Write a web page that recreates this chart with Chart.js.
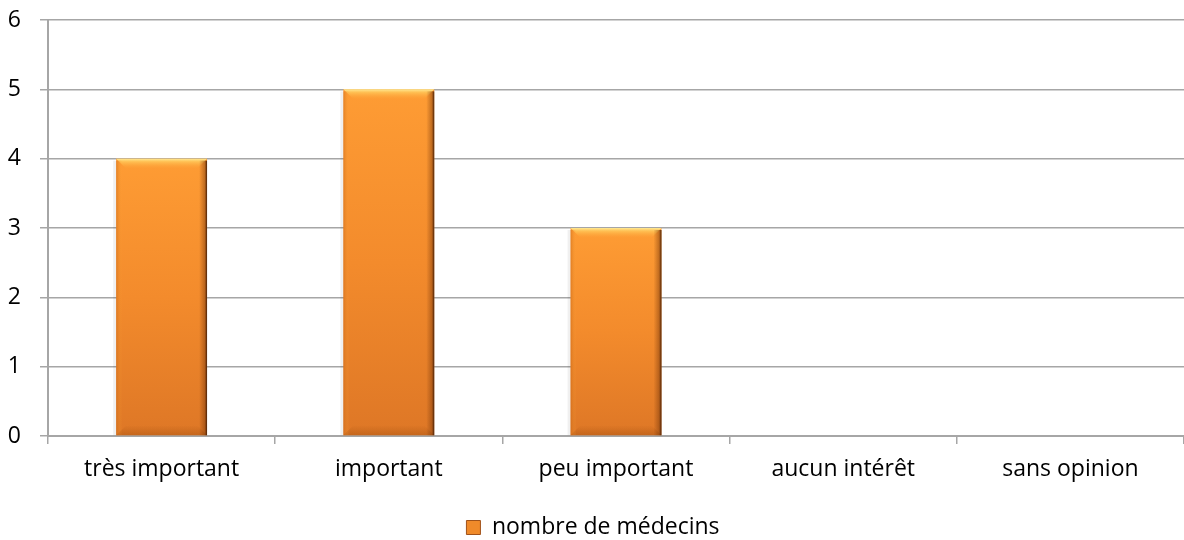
<!DOCTYPE html>
<html>
<head>
<meta charset="utf-8">
<script src="https://cdn.jsdelivr.net/npm/chart.js@4/dist/chart.umd.min.js"></script>
<style>
  html, body { margin: 0; padding: 0; background: #ffffff; }
  #wrap { width: 1184px; height: 540px; }
</style>
</head>
<body>
<div id="wrap"><canvas id="chart" width="1184" height="540"></canvas></div>
<script>
// Réponses au questionnaire
const categories = ['très important', 'important', 'peu important', 'aucun intérêt', 'sans opinion'];
const seriesName = 'nombre de médecins';
const counts = [4, 5, 3, 0, 0];
const yTicks = [0, 1, 2, 3, 4, 5, 6];

const FONT = "'Open Sans', 'Liberation Sans', sans-serif";
const FONT_SIZE = 23;
const GRID = '#a6a6a6';

// Vertical orange gradient for each bar, from its top down to the baseline
function barGradient(ctx) {
  const chart = ctx.chart;
  const y = chart.scales && chart.scales.y;
  if (!y || ctx.type !== 'data' || !chart.chartArea) return '#f38b2c';
  const top = y.getPixelForValue(ctx.parsed.y);
  const base = y.getPixelForValue(0);
  if (!isFinite(top) || !isFinite(base) || top === base) return '#f38b2c';
  const g = chart.ctx.createLinearGradient(0, top, 0, base);
  g.addColorStop(0, '#fe9c34');
  g.addColorStop(0.5, '#f38b2c');
  g.addColorStop(1, '#de7726');
  return g;
}

// Bevelled edges on the bars
const bevel = {
  id: 'bevel',
  afterDatasetsDraw(chart) {
    const c = chart.ctx;
    chart.getDatasetMeta(0).data.forEach((bar) => {
      const h = bar.base - bar.y;
      if (h <= 0) return;
      const l = bar.x - bar.width / 2, r = bar.x + bar.width / 2;
      c.save();
      // soft shadow on the left
      c.fillStyle = 'rgba(0,0,0,0.06)';
      c.fillRect(l - 3, bar.y + 2, 3, h - 2);
      // top highlight
      const gt = c.createLinearGradient(0, bar.y, 0, bar.y + 10);
      gt.addColorStop(0, 'rgba(255,235,150,1)');
      gt.addColorStop(0.3, 'rgba(255,205,95,0.75)');
      gt.addColorStop(1, 'rgba(255,170,60,0)');
      c.fillStyle = gt;
      c.beginPath();
      c.moveTo(l, bar.y); c.lineTo(r, bar.y); c.lineTo(r - 10, bar.y + 10); c.lineTo(l + 10, bar.y + 10); c.closePath();
      c.fill();
      // bottom darker band
      const gb = c.createLinearGradient(0, bar.base - 10, 0, bar.base);
      gb.addColorStop(0, 'rgba(150,70,10,0)');
      gb.addColorStop(1, 'rgba(150,70,10,0.35)');
      c.fillStyle = gb;
      c.beginPath();
      c.moveTo(l + 10, bar.base - 10); c.lineTo(r - 10, bar.base - 10); c.lineTo(r, bar.base); c.lineTo(l, bar.base); c.closePath();
      c.fill();
      // dark right edge
      const gr = c.createLinearGradient(r - 8, 0, r, 0);
      gr.addColorStop(0, 'rgba(120,55,10,0)');
      gr.addColorStop(0.7, 'rgba(120,55,10,0.45)');
      gr.addColorStop(1, 'rgba(70,30,5,1)');
      c.fillStyle = gr;
      c.fillRect(r - 8, bar.y + 2, 8, h - 2);
      // light left edge
      const gl = c.createLinearGradient(l, 0, l + 6, 0);
      gl.addColorStop(0, 'rgba(200,100,20,0.5)');
      gl.addColorStop(1, 'rgba(255,170,60,0)');
      c.fillStyle = gl;
      c.fillRect(l, bar.y + 2, 6, h - 2);
      c.restore();
    });
  }
};

new Chart(document.getElementById('chart'), {
  type: 'bar',
  data: {
    labels: categories,
    datasets: [{
      label: seriesName,
      data: counts,
      backgroundColor: barGradient,
      borderWidth: 0,
      barPercentage: 0.4,
      categoryPercentage: 1.0
    }]
  },
  options: {
    responsive: false,
    animation: false,
    devicePixelRatio: 1,
    layout: { padding: { top: 20, right: -2, bottom: -9, left: 0 } },
    scales: {
      x: {
        afterFit(axis) { axis.height = 80; },
        grid: {
          display: true,
          offset: true,
          drawOnChartArea: false,
          drawTicks: true,
          tickLength: 8,
          color: GRID,
          lineWidth: 1.5
        },
        border: { display: true, color: GRID, width: 2 },
        ticks: {
          color: '#000000',
          padding: 12,
          font: { family: FONT, size: FONT_SIZE },
          maxRotation: 0
        }
      },
      y: {
        min: 0,
        max: 6,
        afterBuildTicks(axis) { axis.ticks = yTicks.map(v => ({ value: v })); },
        afterFit(axis) {
          axis.width = 48;
          axis.paddingTop = 0;
          axis.paddingBottom = 0;
        },
        grid: {
          color: GRID,
          lineWidth: 1.5,
          drawTicks: true,
          tickLength: 8
        },
        border: { display: true, color: GRID, width: 2 },
        ticks: {
          color: '#000000',
          padding: 19,
          font: { family: FONT, size: FONT_SIZE }
        }
      }
    },
    plugins: {
      legend: {
        position: 'bottom',
        padding: 0,
        labels: {
          color: '#000000',
          font: { family: FONT, size: FONT_SIZE, lineHeight: 1.0 },
          boxWidth: 14,
          boxHeight: 14,
          padding: 0,
          generateLabels(chart) {
            return [{
              text: seriesName,
              fillStyle: '#f08a2a',
              strokeStyle: '#a0521a',
              lineWidth: 1,
              hidden: false,
              datasetIndex: 0
            }];
          }
        }
      },
      tooltip: { enabled: false }
    }
  },
  plugins: [bevel]
});
</script>
</body>
</html>
